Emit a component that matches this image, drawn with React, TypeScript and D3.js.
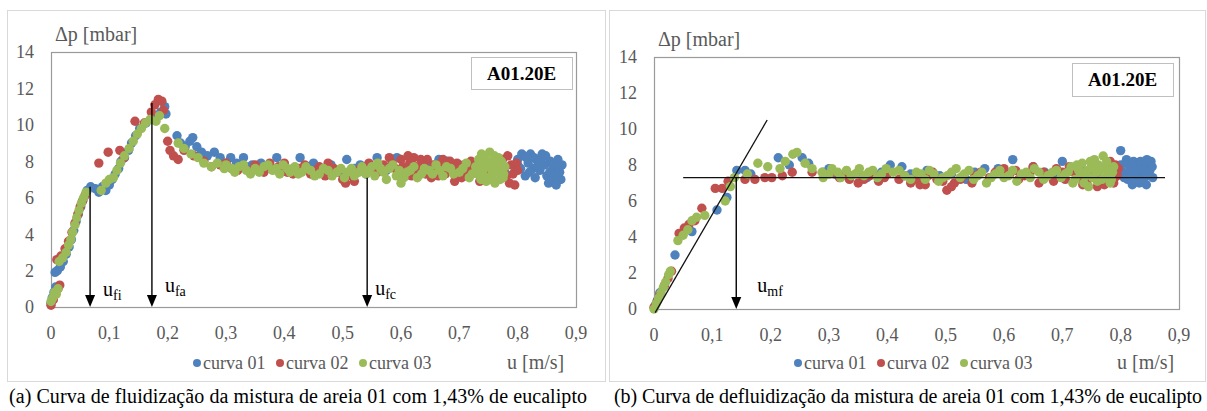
import React, { useRef, useEffect } from "react";
import { select, scaleLinear, line } from "d3";

// axis ticks
const xTicks = [0, 0.1, 0.2, 0.3, 0.4, 0.5, 0.6, 0.7, 0.8, 0.9];
const xTickLabels = ["0", "0,1", "0,2", "0,3", "0,4", "0,5", "0,6", "0,7", "0,8", "0,9"];
const yTicks = [0, 2, 4, 6, 8, 10, 12, 14];
const seriesNames = ["curva 01", "curva 02", "curva 03"];
const seriesColors = ["#4F81BD", "#C0504D", "#9BBB59"];

// (a) fluidization  [u m/s, dp mbar]
const fluidCurva01 = [
  [0.0, 0.2], [0.002, 0.5], [0.005, 0.8], [0.008, 1.1], [0.007, 1.9], [0.011, 2.0], [0.016, 2.2], [0.021, 2.5],
  [0.026, 2.9], [0.031, 3.3], [0.035, 3.7], [0.039, 4.2], [0.043, 4.7], [0.047, 5.1], [0.051, 5.5], [0.055, 5.9],
  [0.062, 6.4], [0.068, 6.6], [0.076, 6.5], [0.082, 6.3], [0.088, 6.6], [0.094, 6.4], [0.1, 6.7], [0.105, 7.0],
  [0.11, 7.3], [0.116, 7.6], [0.12, 8.0], [0.126, 8.2], [0.133, 8.6], [0.138, 9.0], [0.145, 9.4], [0.152, 9.8],
  [0.163, 10.1], [0.176, 10.3], [0.188, 10.7], [0.195, 11.0], [0.197, 10.6],
  [0.216, 9.4], [0.222, 9.0], [0.23, 8.8], [0.238, 9.1], [0.243, 9.3], [0.25, 8.8], [0.258, 8.5], [0.268, 8.3],
  [0.28, 8.5], [0.29, 8.2], [0.3, 7.9], [0.308, 8.2], [0.318, 7.9], [0.33, 8.2], [0.345, 7.8], [0.36, 7.9],
  [0.375, 7.7], [0.387, 8.2], [0.4, 7.8], [0.415, 7.6], [0.427, 8.2], [0.44, 7.7], [0.46, 7.5], [0.48, 7.8],
  [0.495, 7.4], [0.507, 8.1], [0.52, 7.6], [0.54, 7.3], [0.559, 8.2], [0.575, 7.5], [0.593, 8.2], [0.61, 7.6],
  [0.63, 7.4], [0.65, 7.8], [0.665, 8.1], [0.679, 8.0], [0.695, 7.6], [0.71, 7.2], [0.725, 7.5], [0.745, 7.7],
  [0.77, 7.4], [0.795, 7.7], [0.8, 8.1], [0.805, 7.6], [0.81, 8.3], [0.813, 7.2], [0.818, 7.9], [0.822, 8.4],
  [0.826, 7.6], [0.83, 7.1], [0.834, 8.0], [0.838, 7.5], [0.842, 8.4], [0.846, 7.8], [0.85, 7.2], [0.853, 6.8],
  [0.856, 8.0], [0.859, 7.5], [0.862, 6.9], [0.865, 7.9], [0.868, 7.3], [0.871, 7.6], [0.874, 7.0],
  [0.8, 7.8], [0.807, 8.4], [0.815, 8.2], [0.82, 7.4], [0.828, 8.2], [0.836, 7.7], [0.84, 8.1], [0.848, 8.3],
  [0.855, 7.4], [0.86, 7.8], [0.863, 7.2], [0.866, 6.7], [0.869, 8.1], [0.872, 7.4], [0.876, 7.8],
  [0.335, 7.7], [0.39, 7.6], [0.45, 7.9], [0.47, 7.4], [0.53, 7.8], [0.6, 7.4], [0.64, 8.0], [0.7, 7.8],
  [0.72, 7.9], [0.76, 7.6], [0.78, 7.3],
];
const fluidCurva02 = [
  [0.0, 0.1], [0.004, 0.4], [0.008, 0.7], [0.012, 1.0], [0.015, 1.2], [0.01, 2.6], [0.017, 2.8], [0.024, 3.2],
  [0.03, 3.6], [0.036, 4.1], [0.041, 4.6], [0.046, 5.1], [0.05, 5.5], [0.054, 5.8], [0.058, 6.1], [0.082, 7.9],
  [0.098, 8.5], [0.118, 8.6], [0.125, 8.2], [0.144, 10.2], [0.16, 10.1], [0.172, 10.7], [0.178, 11.1], [0.184, 11.4],
  [0.19, 11.3], [0.193, 10.8], [0.2, 9.1], [0.204, 8.6], [0.21, 8.3], [0.218, 8.1], [0.228, 8.6], [0.245, 8.3],
  [0.262, 8.0], [0.275, 7.7], [0.29, 7.8], [0.31, 7.6], [0.33, 7.7], [0.345, 7.5], [0.36, 7.6], [0.375, 7.9],
  [0.39, 7.7], [0.405, 7.4], [0.425, 7.6], [0.445, 7.3], [0.46, 7.7], [0.475, 7.9], [0.49, 7.4], [0.505, 6.8],
  [0.515, 7.2], [0.53, 7.6], [0.545, 7.9], [0.56, 7.4], [0.57, 7.8], [0.58, 8.2], [0.59, 7.6], [0.6, 8.1],
  [0.608, 7.5], [0.615, 7.9], [0.622, 8.2], [0.63, 7.4], [0.638, 7.8], [0.645, 8.1], [0.652, 7.1], [0.66, 7.6],
  [0.668, 7.9], [0.676, 7.3], [0.684, 8.0], [0.692, 6.9], [0.7, 7.5], [0.708, 7.8], [0.716, 7.2], [0.725, 7.6],
  [0.735, 6.9], [0.745, 7.3], [0.755, 7.0], [0.774, 8.1], [0.777, 7.6], [0.78, 7.1], [0.783, 8.3], [0.786, 6.8],
  [0.789, 7.8], [0.792, 7.3], [0.795, 6.7], [0.798, 7.9], [0.8, 7.5],
  [0.585, 7.9], [0.595, 7.3], [0.603, 7.7], [0.612, 8.3], [0.618, 7.2], [0.626, 7.7], [0.634, 8.1], [0.642, 7.3],
  [0.656, 7.8], [0.664, 7.2], [0.672, 8.1], [0.68, 7.6], [0.688, 7.4], [0.696, 7.9], [0.704, 7.1], [0.712, 7.5],
  [0.72, 8.0], [0.73, 7.4], [0.74, 7.7], [0.75, 7.2],
  [0.3, 7.9], [0.32, 7.5], [0.35, 7.8], [0.365, 7.4], [0.38, 7.6], [0.4, 7.9], [0.415, 7.3], [0.435, 7.8],
  [0.455, 7.5], [0.47, 7.2], [0.485, 7.6], [0.5, 7.0], [0.52, 6.9], [0.525, 7.4], [0.54, 7.7],
];
const fluidCurva03 = [
  [0.0, 0.3], [0.003, 0.5], [0.006, 0.8], [0.009, 0.7], [0.012, 1.0], [0.014, 2.5], [0.02, 2.7], [0.026, 3.0],
  [0.03, 3.4], [0.034, 3.7], [0.037, 4.1], [0.041, 4.5], [0.044, 4.9], [0.048, 5.3], [0.052, 5.7], [0.056, 6.0],
  [0.06, 6.3], [0.086, 6.4], [0.094, 6.8], [0.1, 7.0], [0.107, 7.1], [0.113, 7.5], [0.119, 7.9], [0.126, 8.3],
  [0.134, 8.7], [0.141, 9.1], [0.148, 9.5], [0.155, 9.8], [0.162, 10.1], [0.17, 10.3], [0.18, 10.2], [0.186, 10.5],
  [0.195, 9.8], [0.218, 9.0], [0.228, 8.7], [0.24, 8.4], [0.252, 8.2], [0.262, 7.9], [0.275, 7.7], [0.285, 7.9],
  [0.297, 7.6], [0.31, 7.6], [0.322, 7.7], [0.335, 7.5], [0.35, 7.6], [0.365, 7.7], [0.38, 7.5], [0.392, 7.3],
  [0.405, 7.6], [0.418, 7.7], [0.43, 7.4], [0.445, 7.5], [0.46, 7.3], [0.475, 7.5], [0.49, 7.4], [0.503, 7.1],
  [0.515, 7.6], [0.528, 7.4], [0.54, 7.3], [0.55, 7.7], [0.56, 7.9], [0.57, 7.4], [0.58, 7.6], [0.592, 7.2],
  [0.6, 6.8], [0.61, 7.4], [0.622, 7.7], [0.635, 7.3], [0.648, 7.5], [0.66, 7.8], [0.672, 7.2], [0.685, 7.6],
  [0.7, 7.4], [0.712, 7.9], [0.722, 7.3], [0.728, 7.7], [0.733, 8.1], [0.737, 7.0], [0.74, 7.5], [0.743, 8.3],
  [0.746, 6.9], [0.749, 7.8], [0.752, 8.5], [0.755, 7.2], [0.758, 8.0], [0.761, 6.8], [0.764, 7.6], [0.767, 8.2],
  [0.77, 7.0], [0.773, 7.8], [0.776, 7.3],
  [0.3, 7.8], [0.315, 7.4], [0.33, 7.8], [0.342, 7.3], [0.357, 7.4], [0.372, 7.8], [0.386, 7.6], [0.398, 7.8],
  [0.41, 7.4], [0.424, 7.3], [0.437, 7.7], [0.452, 7.2], [0.467, 7.6], [0.482, 7.2], [0.497, 7.6], [0.508, 7.4],
  [0.52, 7.2], [0.533, 7.7], [0.545, 7.5], [0.555, 7.2], [0.565, 7.6], [0.575, 7.0], [0.586, 7.8], [0.597, 7.5],
  [0.605, 7.1], [0.616, 7.5], [0.628, 7.1], [0.64, 7.6], [0.654, 7.3], [0.666, 7.5], [0.678, 7.7], [0.69, 7.3],
  [0.706, 7.6], [0.717, 7.1], [0.731, 7.3], [0.735, 7.8], [0.738, 8.4], [0.742, 7.2], [0.748, 8.0], [0.754, 7.6],
  [0.757, 7.0], [0.76, 8.3], [0.763, 7.4], [0.766, 7.9], [0.769, 7.5], [0.772, 8.0], [0.775, 7.1], [0.778, 7.7],
];

// (b) defluidization
const defluidCurva01 = [
  [0.002, 0.2], [0.006, 0.5], [0.01, 0.9], [0.036, 3.0], [0.065, 4.3], [0.108, 5.5], [0.125, 6.2], [0.142, 7.7],
  [0.156, 7.7], [0.166, 7.5], [0.213, 8.4], [0.232, 8.0], [0.254, 8.4], [0.265, 8.1], [0.29, 7.6], [0.31, 7.5],
  [0.33, 7.4], [0.35, 7.6], [0.365, 7.3], [0.39, 7.6], [0.405, 8.0], [0.425, 7.9], [0.44, 7.5], [0.468, 7.7],
  [0.49, 7.4], [0.51, 7.5], [0.535, 7.2], [0.567, 7.8], [0.59, 7.8], [0.615, 8.3], [0.64, 7.5], [0.67, 7.6],
  [0.7, 8.2], [0.72, 7.7], [0.75, 7.4], [0.775, 7.9], [0.8, 8.8], [0.804, 7.6], [0.808, 8.1], [0.812, 7.2],
  [0.816, 7.8], [0.82, 6.9], [0.824, 8.0], [0.828, 7.4], [0.832, 7.0], [0.836, 7.9], [0.84, 7.5], [0.844, 6.9],
  [0.848, 8.1], [0.852, 8.2], [0.855, 7.3],
  [0.8, 8.0], [0.806, 7.3], [0.81, 8.3], [0.818, 7.5], [0.822, 8.2], [0.826, 7.1], [0.83, 7.7], [0.834, 8.2],
  [0.838, 7.2], [0.842, 7.8], [0.846, 7.4], [0.85, 7.7], [0.854, 7.9], [0.845, 8.3],
  [0.3, 7.8], [0.375, 7.6], [0.455, 7.4], [0.55, 7.6], [0.6, 7.4], [0.65, 7.9], [0.69, 7.5], [0.735, 7.7],
  [0.76, 7.6], [0.79, 7.5],
];
const defluidCurva02 = [
  [0.0, 0.1], [0.005, 0.4], [0.01, 0.8], [0.018, 1.3], [0.024, 1.7], [0.03, 2.1], [0.043, 4.2], [0.052, 4.5],
  [0.06, 4.7], [0.07, 4.9], [0.082, 5.6], [0.105, 6.7], [0.117, 6.7], [0.127, 7.1], [0.156, 7.2], [0.173, 7.2],
  [0.19, 7.3], [0.202, 7.3], [0.22, 7.4], [0.237, 7.6], [0.271, 7.6], [0.305, 7.6], [0.318, 7.3], [0.335, 7.2],
  [0.35, 7.0], [0.37, 7.4], [0.385, 7.1], [0.4, 7.5], [0.42, 7.2], [0.44, 7.0], [0.456, 6.9], [0.47, 7.4],
  [0.485, 7.2], [0.502, 6.6], [0.515, 7.0], [0.53, 7.4], [0.545, 7.0], [0.56, 7.6], [0.575, 7.3], [0.6, 7.8],
  [0.61, 7.5], [0.625, 7.2], [0.645, 7.6], [0.66, 7.0], [0.675, 7.4], [0.69, 7.8], [0.705, 7.2], [0.72, 7.6],
  [0.735, 6.9], [0.75, 7.4], [0.76, 6.8], [0.775, 7.9], [0.778, 7.2], [0.782, 8.2], [0.785, 7.6], [0.788, 7.0],
  [0.791, 8.0], [0.794, 7.4],
  [0.33, 7.5], [0.36, 7.2], [0.395, 7.3], [0.43, 7.4], [0.45, 7.2], [0.465, 6.9], [0.478, 7.6], [0.495, 7.1],
  [0.51, 6.8], [0.525, 7.2], [0.55, 7.4], [0.585, 7.6], [0.62, 7.7], [0.635, 7.4], [0.65, 7.9], [0.668, 7.6],
  [0.685, 7.1], [0.7, 7.6], [0.712, 7.9], [0.728, 7.3], [0.742, 7.0], [0.755, 7.7], [0.765, 7.2], [0.772, 6.9],
  [0.78, 8.0], [0.79, 7.3], [0.796, 7.8],
];
const defluidCurva03 = [
  [0.0, 0.0], [0.004, 0.3], [0.008, 0.6], [0.012, 0.9], [0.016, 1.2], [0.02, 1.5], [0.025, 1.9], [0.028, 2.1],
  [0.041, 3.8], [0.05, 4.1], [0.058, 4.4], [0.065, 4.9], [0.073, 5.1], [0.087, 5.2], [0.122, 6.0], [0.131, 6.8],
  [0.138, 7.3], [0.16, 7.5], [0.178, 8.1], [0.195, 7.9], [0.216, 7.8], [0.225, 8.2], [0.238, 8.6], [0.245, 8.7],
  [0.259, 8.1], [0.271, 7.8], [0.288, 7.6], [0.3, 7.5], [0.315, 7.6], [0.33, 7.7], [0.345, 7.5], [0.36, 7.4],
  [0.375, 7.7], [0.39, 7.5], [0.41, 7.6], [0.43, 7.4], [0.45, 7.6], [0.465, 7.2], [0.48, 7.5], [0.495, 7.3],
  [0.51, 7.6], [0.525, 7.3], [0.54, 7.7], [0.555, 7.4], [0.57, 7.0], [0.585, 7.5], [0.6, 7.3], [0.615, 7.7],
  [0.63, 7.5], [0.645, 7.3], [0.66, 7.6], [0.675, 7.4], [0.69, 7.7], [0.705, 7.5], [0.715, 7.9], [0.722, 7.2],
  [0.728, 7.7], [0.734, 8.1], [0.74, 7.4], [0.745, 6.8], [0.75, 7.9], [0.755, 8.3], [0.76, 7.1], [0.765, 7.7],
  [0.77, 8.5], [0.774, 7.3], [0.778, 7.9], [0.782, 7.0], [0.786, 7.6],
  [0.29, 7.3], [0.305, 7.8], [0.32, 7.3], [0.338, 7.4], [0.352, 7.8], [0.368, 7.6], [0.383, 7.3], [0.398, 7.8],
  [0.42, 7.7], [0.44, 7.2], [0.458, 7.5], [0.472, 7.7], [0.488, 7.1], [0.503, 7.4], [0.518, 7.8], [0.532, 7.5],
  [0.548, 7.2], [0.562, 7.6], [0.578, 7.3], [0.593, 7.7], [0.608, 7.4], [0.622, 7.1], [0.638, 7.6], [0.652, 7.8],
  [0.668, 7.2], [0.683, 7.6], [0.698, 7.3], [0.71, 7.6], [0.718, 7.0], [0.725, 8.0], [0.731, 7.5], [0.737, 7.0],
  [0.743, 7.7], [0.748, 8.2], [0.752, 7.3], [0.758, 7.6], [0.762, 8.0], [0.768, 7.2], [0.772, 7.8], [0.776, 8.2],
  [0.78, 7.5], [0.784, 7.2], [0.788, 7.9],
];

// characteristic velocities (u, dp where the arrow starts)
const fluidArrows = [
  { sub: "fi", u: 0.067, dp: 6.6 },
  { sub: "fa", u: 0.173, dp: 11.2 },
  { sub: "fc", u: 0.542, dp: 7.1 },
];
const defluidArrows = [{ sub: "mf", u: 0.141, dp: 7.3 }];
const tangentLine = [[0.002, -0.2], [0.194, 10.5]];
const plateauLine = [[0.05, 7.3], [0.876, 7.3]];

const serif = "Liberation Serif";

const panels = [
  {
    frame: [7, 10, 598, 371],
    plot: { left: 51, top: 52, right: 576, bottom: 307 },
    series: [fluidCurva01, fluidCurva02, fluidCurva03],
    arrows: fluidArrows,
    labelOffsets: [[13, -11], [13, -15], [8, -12]],
    lines: [],
    legendX: 197,
    unitX: 507,
    tagBox: [471, 57, 101, 32],
    caption: "(a) Curva de fluidização da mistura de areia 01 com 1,43% de eucalipto",
    captionX: 9,
    captionW: 578,
  },
  {
    frame: [609, 10, 596, 371],
    plot: { left: 654, top: 57, right: 1179, bottom: 309 },
    series: [defluidCurva01, defluidCurva02, defluidCurva03],
    arrows: defluidArrows,
    labelOffsets: [[21, -17]],
    lines: [tangentLine, plateauLine],
    legendX: 798,
    unitX: 1117,
    tagBox: [1072, 63, 101, 33],
    caption: "(b) Curva de defluidização da mistura de areia 01 com 1,43% de eucalipto",
    captionX: 614,
    captionW: 588,
  },
];

function drawPanel(svg, p) {
  const g = svg.append("g");
  const { left, top, right, bottom } = p.plot;
  const x = scaleLinear().domain([0, 0.9]).range([left, right]);
  const y = scaleLinear().domain([0, 14]).range([bottom, top]);

  g.append("rect")
    .attr("x", p.frame[0] + 0.5).attr("y", p.frame[1] + 0.5)
    .attr("width", p.frame[2]).attr("height", p.frame[3])
    .attr("fill", "none").attr("stroke", "#d9d9d9");

  g.append("rect")
    .attr("x", left + 0.5).attr("y", top + 0.5)
    .attr("width", right - left).attr("height", bottom - top)
    .attr("fill", "none").attr("stroke", "#9a9a9a").attr("stroke-width", 1.2);

  // ticks
  g.selectAll(".ytick").data(yTicks).join("text")
    .attr("class", "ytick")
    .attr("x", left - 17).attr("y", d => y(d)).attr("dy", "0.36em")
    .attr("text-anchor", "end").attr("font-family", serif).attr("font-size", 18)
    .attr("fill", "#595959").text(d => d);

  g.selectAll(".xtick").data(xTicks).join("text")
    .attr("class", "xtick")
    .attr("x", d => x(d)).attr("y", bottom + 32)
    .attr("text-anchor", "middle").attr("font-family", serif).attr("font-size", 18)
    .attr("fill", "#595959").text((d, i) => xTickLabels[i]);

  g.append("text")
    .attr("x", left + 4).attr("y", top - 11)
    .attr("font-family", serif).attr("font-size", 20).attr("fill", "#595959")
    .text("Δp [mbar]");

  // scatter, series 01 first so 03 ends up on top
  p.series.forEach((pts, si) => {
    g.append("g").selectAll("circle").data(pts).join("circle")
      .attr("cx", d => x(d[0])).attr("cy", d => y(d[1]))
      .attr("r", 4.7).attr("fill", seriesColors[si]);
  });

  // tangent / plateau lines
  const ln = line().x(d => x(d[0])).y(d => y(d[1]));
  p.lines.forEach(l => {
    g.append("path").attr("d", ln(l)).attr("stroke", "#111").attr("stroke-width", 1.3).attr("fill", "none");
  });

  // arrows
  p.arrows.forEach((a, i) => {
    const ax = x(a.u);
    g.append("line")
      .attr("x1", ax).attr("x2", ax).attr("y1", y(a.dp)).attr("y2", bottom - 10)
      .attr("stroke", "#000").attr("stroke-width", 1.4);
    g.append("path")
      .attr("d", `M${ax - 5},${bottom - 12}L${ax + 5},${bottom - 12}L${ax},${bottom}Z`)
      .attr("fill", "#000");
    const [ox, oy] = p.labelOffsets[i];
    const t = g.append("text")
      .attr("x", ax + ox).attr("y", bottom + oy)
      .attr("font-family", serif).attr("font-size", 20).attr("fill", "#000");
    t.append("tspan").text("u");
    t.append("tspan").attr("dy", 4).attr("font-size", 14).text(a.sub);
  });

  // sample tag
  const [bx, by, bw, bh] = p.tagBox;
  g.append("rect").attr("x", bx + 0.5).attr("y", by + 0.5).attr("width", bw).attr("height", bh)
    .attr("fill", "#fff").attr("stroke", "#bfbfbf");
  g.append("text").attr("x", bx + bw / 2).attr("y", by + bh / 2).attr("dy", "0.35em")
    .attr("text-anchor", "middle").attr("font-family", serif).attr("font-weight", "bold")
    .attr("font-size", 19).text("A01.20E");

  // legend
  seriesNames.forEach((name, i) => {
    const lx = p.legendX + i * 83;
    g.append("circle").attr("cx", lx).attr("cy", 363).attr("r", 4).attr("fill", seriesColors[i]);
    g.append("text").attr("x", lx + 6).attr("y", 369)
      .attr("font-family", serif).attr("font-size", 18).attr("fill", "#595959").text(name);
  });
  g.append("text").attr("x", p.unitX).attr("y", 369)
    .attr("font-family", serif).attr("font-size", 20).attr("fill", "#595959").text("u [m/s]");

  g.append("text").attr("x", p.captionX).attr("y", 403)
    .attr("font-family", serif).attr("font-size", 20).attr("fill", "#000")
    .attr("textLength", p.captionW).attr("lengthAdjust", "spacing")
    .text(p.caption);
}

function App() {
  const svgRef = useRef(null);

  useEffect(() => {
    const svg = select(svgRef.current);
    svg.selectAll("*").remove();
    panels.forEach(p => drawPanel(svg, p));
  }, []);

  return (
    <svg ref={svgRef} width={1207} height={411}
      style={{ position: "absolute", left: 0, top: 0, background: "#fff" }} />
  );
}

export default App;
